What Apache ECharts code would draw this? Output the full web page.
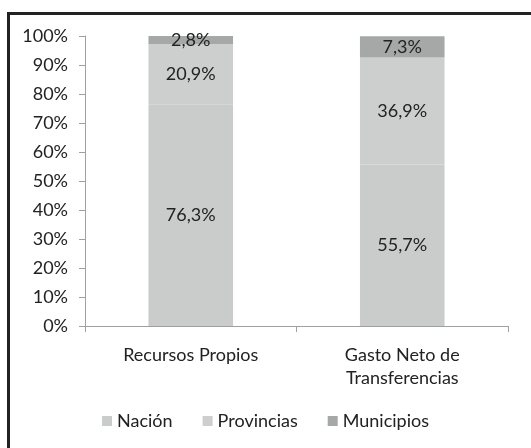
<!DOCTYPE html>
<html>
<head>
<meta charset="utf-8">
<script src="https://cdn.jsdelivr.net/npm/echarts@6/dist/echarts.min.js"></script>
<style>
  html, body { margin: 0; padding: 0; background: #fff; }
  #main { width: 531px; height: 448px; }
</style>
</head>
<body>
<div id="main"></div>
<script>
// datos del gráfico
var categorias = ['Recursos Propios', 'Gasto Neto de\nTransferencias'];
var nacion = [76.3, 55.7];
var provincias = [20.9, 36.9];
var municipios = [2.8, 7.3];

var myChart = echarts.init(document.getElementById('main'));

var fmt = function (p) {
    return p.value.toFixed(1).replace('.', ',') + '%';
};
var lbl = { show: true, position: 'inside', color: '#222', fontSize: 18, fontFamily: 'Lato', formatter: fmt };

option = {
    animation: false,
    textStyle: { fontFamily: 'Lato' },
    graphic: [
        { type: 'rect', left: 7, top: 12, shape: { width: 524, height: 3 }, style: { fill: '#222' } },
        { type: 'rect', left: 7, top: 12, shape: { width: 3, height: 436 }, style: { fill: '#222' } }
    ],
    legend: {
        bottom: 13,
        left: 'center',
        icon: 'rect',
        itemWidth: 10,
        itemHeight: 10,
        itemGap: 30,
        itemStyle: { borderWidth: 0 },
        textStyle: { fontSize: 18, color: '#222', fontFamily: 'Lato' },
        data: ['Nación', 'Provincias', 'Municipios']
    },
    grid: { left: 85, right: 23, top: 36, bottom: 122 },
    xAxis: {
        type: 'category',
        data: categorias,
        axisLine: { lineStyle: { color: '#a0a0a0' } },
        axisTick: { show: true, length: 6, lineStyle: { color: '#a0a0a0' } },
        axisLabel: { fontSize: 18, color: '#222', lineHeight: 23, margin: 18 }
    },
    yAxis: {
        type: 'value',
        min: 0,
        max: 100,
        interval: 10,
        splitLine: { show: false },
        axisLine: { show: true, lineStyle: { color: '#a0a0a0' } },
        axisTick: { show: true, length: 6, lineStyle: { color: '#a0a0a0' } },
        axisLabel: { fontSize: 18, color: '#222', margin: 17, formatter: '{value}%' }
    },
    series: [
        { name: 'Nación', type: 'bar', stack: 'total', barWidth: '40%', data: nacion, itemStyle: { color: '#cacbcb' }, label: lbl },
        { name: 'Provincias', type: 'bar', stack: 'total', data: provincias, itemStyle: { color: '#cdcece' }, label: lbl },
        { name: 'Municipios', type: 'bar', stack: 'total', data: municipios, itemStyle: { color: '#a6a8a8' }, label: lbl }
    ]
};
myChart.setOption(option);
</script>
</body>
</html>
